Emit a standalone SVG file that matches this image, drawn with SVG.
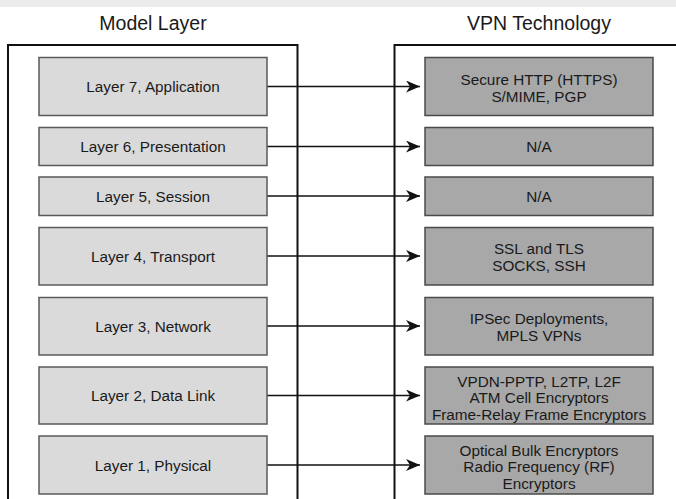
<svg xmlns="http://www.w3.org/2000/svg" width="676" height="499" viewBox="0 0 676 499">
  <style>
    .title { font-family: "Liberation Sans", Arial, sans-serif; font-size: 19.5px; fill: #1a1a1a; text-anchor: middle; }
    .lbl { font-family: "Liberation Sans", Arial, sans-serif; font-size: 15.3px; fill: #1a1a1a; text-anchor: middle; }
    .frame { fill: #ffffff; stroke: #111111; stroke-width: 2; }
    .osi { fill: #dadada; stroke: #5a5a5a; stroke-width: 1.5; }
    .vpn { fill: #a8a8a8; stroke: #4a4a4a; stroke-width: 1.5; }
    .link { stroke: #111111; stroke-width: 1.5; fill: none; marker-end: url(#arrow); }
  </style>
  <defs>
    <marker id="arrow" viewBox="0 0 14 12" refX="14" refY="6" markerWidth="14" markerHeight="12" markerUnits="userSpaceOnUse" orient="auto">
      <path d="M0,0 L14,6 L0,12 L4,6 Z" fill="#111111"/>
    </marker>
  </defs>

  <rect width="676" height="499" fill="#ffffff"/>
  <rect x="0" y="0" width="676" height="7" fill="#ececec"/>

  <!-- column headings -->
  <text class="title" x="153" y="30">Model Layer</text>
  <text class="title" x="539" y="30">VPN Technology</text>

  <!-- column frames -->
  <rect class="frame" x="8" y="45" width="289.5" height="470"/>
  <rect class="frame" x="394.5" y="45" width="300" height="470"/>

  <!-- connectors -->
  <g id="connectors">
    <line class="link" x1="267" y1="86.5" x2="420" y2="86.5"/>
    <line class="link" x1="267" y1="146.5" x2="420" y2="146.5"/>
    <line class="link" x1="267" y1="196" x2="420" y2="196"/>
    <line class="link" x1="267" y1="256" x2="420" y2="256"/>
    <line class="link" x1="267" y1="326" x2="420" y2="326"/>
    <line class="link" x1="267" y1="395.5" x2="420" y2="395.5"/>
    <line class="link" x1="267" y1="465" x2="420" y2="465"/>
  </g>

  <!-- OSI layers -->
  <g id="layer7">
    <rect class="osi" x="39" y="57.5" width="228" height="58"/>
    <text class="lbl" x="153" y="92">Layer 7, Application</text>
  </g>
  <g id="layer6">
    <rect class="osi" x="39" y="127.5" width="228" height="38"/>
    <text class="lbl" x="153" y="152">Layer 6, Presentation</text>
  </g>
  <g id="layer5">
    <rect class="osi" x="39" y="177" width="228" height="38.5"/>
    <text class="lbl" x="153" y="201.5">Layer 5, Session</text>
  </g>
  <g id="layer4">
    <rect class="osi" x="39" y="227.5" width="228" height="57.5"/>
    <text class="lbl" x="153" y="261.5">Layer 4, Transport</text>
  </g>
  <g id="layer3">
    <rect class="osi" x="39" y="297.5" width="228" height="57.5"/>
    <text class="lbl" x="153" y="331.5">Layer 3, Network</text>
  </g>
  <g id="layer2">
    <rect class="osi" x="39" y="367" width="228" height="57"/>
    <text class="lbl" x="153" y="401">Layer 2, Data Link</text>
  </g>
  <g id="layer1">
    <rect class="osi" x="39" y="436" width="228" height="58"/>
    <text class="lbl" x="153" y="470.5">Layer 1, Physical</text>
  </g>

  <!-- VPN technologies -->
  <g id="vpn7">
    <rect class="vpn" x="425" y="57.5" width="228" height="58"/>
    <text class="lbl" x="539" y="84.5">Secure HTTP (HTTPS)</text>
    <text class="lbl" x="539" y="102">S/MIME, PGP</text>
  </g>
  <g id="vpn6">
    <rect class="vpn" x="425" y="127.5" width="228" height="38"/>
    <text class="lbl" x="539" y="152">N/A</text>
  </g>
  <g id="vpn5">
    <rect class="vpn" x="425" y="177" width="228" height="38.5"/>
    <text class="lbl" x="539" y="201.5">N/A</text>
  </g>
  <g id="vpn4">
    <rect class="vpn" x="425" y="227.5" width="228" height="57.5"/>
    <text class="lbl" x="539" y="254">SSL and TLS</text>
    <text class="lbl" x="539" y="271">SOCKS, SSH</text>
  </g>
  <g id="vpn3">
    <rect class="vpn" x="425" y="297.5" width="228" height="57.5"/>
    <text class="lbl" x="539" y="324">IPSec Deployments,</text>
    <text class="lbl" x="539" y="341">MPLS VPNs</text>
  </g>
  <g id="vpn2">
    <rect class="vpn" x="425" y="367" width="228" height="57"/>
    <text class="lbl" x="539" y="386.5">VPDN-PPTP, L2TP, L2F</text>
    <text class="lbl" x="539" y="403">ATM Cell Encryptors</text>
    <text class="lbl" x="539" y="419.5">Frame-Relay Frame Encryptors</text>
  </g>
  <g id="vpn1">
    <rect class="vpn" x="425" y="436" width="228" height="58"/>
    <text class="lbl" x="539" y="455.5">Optical Bulk Encryptors</text>
    <text class="lbl" x="539" y="472">Radio Frequency (RF)</text>
    <text class="lbl" x="539" y="488.5">Encryptors</text>
  </g>
</svg>
